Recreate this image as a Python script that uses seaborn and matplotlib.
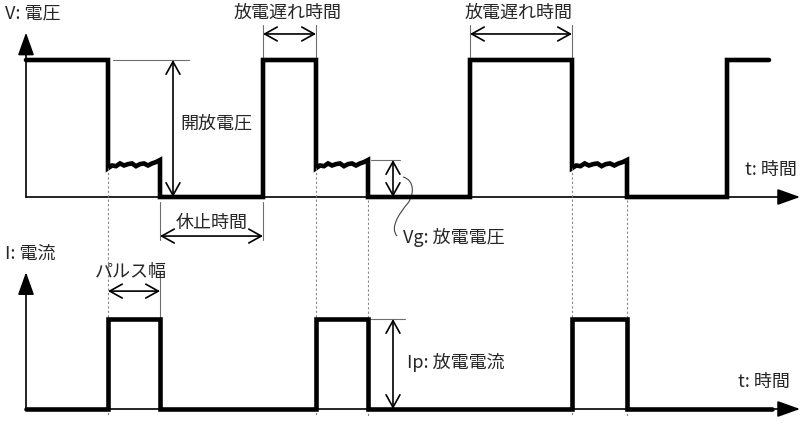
import numpy as np
import pandas as pd
import seaborn as sns
import matplotlib.pyplot as plt
from matplotlib.path import Path
from matplotlib.patches import PathPatch

# --- waveform data (time in arbitrary units, levels in % of peak) ---
pulse_on = [82, 290, 546]      # discharge starts: voltage collapses, current rises
pulse_off = [134, 342, 601]    # discharge ends
rise_times = [237, 444, 701]   # open voltage applied again after the off time
t_end_v = 743
t_end_i = 746
V_OPEN = 100
I_PEAK = 100
# ripple of the arc voltage during discharge
vg_wave = [21, 23, 22.5, 24.5, 23, 24, 24.5, 22.5, 24, 24.5, 23, 24.5, 25.5, 27]
V_GAP = 27

# build step traces from the data
t_v, v = [0], [V_OPEN]
for on, off, rise in zip(pulse_on, pulse_off, rise_times):
    t_v.append(on); v.append(V_OPEN)
    for tt, w in zip(np.linspace(on, off, len(vg_wave)), vg_wave):
        t_v.append(tt); v.append(w)
    t_v += [off, rise, rise]; v += [0, 0, V_OPEN]
t_v.append(t_end_v); v.append(V_OPEN)
df_v = pd.DataFrame({"t": t_v, "v": v})

t_i, cur = [0], [0]
for on, off in zip(pulse_on, pulse_off):
    t_i += [on, on, off, off]; cur += [0, I_PEAK, I_PEAK, 0]
t_i.append(t_end_i); cur.append(0)
df_i = pd.DataFrame({"t": t_i, "i": cur})

sns.set_theme(style="white")
plt.rcParams['font.family'] = ['Noto Sans CJK JP', 'DejaVu Sans']

W, H = 810, 426
fig = plt.figure(figsize=(8.1, 4.26), dpi=100)

# top panel: pixel rows 0..250, V=0 at row 197, 1.37 px per unit
ax_v = fig.add_axes([0, 1 - 250 / H, 1, 250 / H])
ax_v.set_xlim(-26, W - 26)
ax_v.set_ylim((197 - 250) / 1.37, 197 / 1.37)
# bottom panel: pixel rows 250..426, I=0 at row 409, 0.9 px per unit
ax_i = fig.add_axes([0, 0, 1, 176 / H])
ax_i.set_xlim(-26, W - 26)
ax_i.set_ylim((409 - 426) / 0.9, (409 - 250) / 0.9)
for ax in (ax_v, ax_i):
    ax.set_axis_off()

gray = "#6e6e6e"
axis_kw = dict(arrowstyle="-|>,head_length=0.7,head_width=0.25", color="black",
               lw=1.2, mutation_scale=20, shrinkA=0, shrinkB=0)
dim_kw = dict(arrowstyle="<->,head_length=0.45,head_width=0.25", color="black",
              lw=1.2, mutation_scale=20, shrinkA=0, shrinkB=0)

# axes with arrows
ax_v.annotate("", xy=(0, 120), xytext=(0, 0), arrowprops=axis_kw)
ax_v.annotate("", xy=(774, 0), xytext=(0, 0), arrowprops=axis_kw)
ax_i.annotate("", xy=(0, 152), xytext=(0, 0), arrowprops=axis_kw)
ax_i.annotate("", xy=(774, 0), xytext=(0, 0), arrowprops=axis_kw)

# dotted guides linking voltage and current
for k, on in enumerate(pulse_on):
    ax_i.plot([on, on], [268, -8], ls=(0, (2, 2)), color="#888888", lw=0.8,
              clip_on=False, zorder=1)
for k, off in enumerate(pulse_off):
    if k == 0:
        continue
    ax_i.plot([off, off], [232, -8], ls=(0, (2, 2)), color="#888888", lw=0.8,
              clip_on=False, zorder=1)

# waveforms
sns.lineplot(data=df_v, x="t", y="v", ax=ax_v, color="black", lw=3.3,
             sort=False, estimator=None, solid_joinstyle="miter", zorder=3)
sns.lineplot(data=df_i, x="t", y="i", ax=ax_i, color="black", lw=3.3,
             sort=False, estimator=None, solid_joinstyle="miter", zorder=3)
ax_v.set_axis_off()
ax_i.set_axis_off()

fs = 13
# labels
ax_v.text(-21, 134.3, "V: 電圧", ha="left", va="center", fontsize=fs)
ax_v.text(719, 19.7, "t: 時間", ha="left", va="center", fontsize=fs)
ax_i.text(-21, 173, "I: 電流", ha="left", va="center", fontsize=fs)
ax_i.text(712, 30, "t: 時間", ha="left", va="center", fontsize=fs)

# discharge delay time
for a, b in [(rise_times[0], pulse_on[1]), (rise_times[1], pulse_on[2])]:
    for x in (a, b):
        ax_v.plot([x, x], [V_OPEN, 125.5], color=gray, lw=0.8, clip_on=False)
    ax_v.annotate("", xy=(a, 119), xytext=(b, 119), arrowprops=dim_kw)
    ax_v.text((a + b) / 2 - 2, 134.3, "放電遅れ時間", ha="center", va="center",
              fontsize=fs)

# open voltage
ax_v.plot([87, 163], [V_OPEN, V_OPEN], color=gray, lw=0.8)
ax_v.annotate("", xy=(147, V_OPEN), xytext=(147, 0), arrowprops=dim_kw)
ax_v.text(154, 54, "開放電圧", ha="left", va="center", fontsize=fs)

# off time
for x in (pulse_off[0], rise_times[0]):
    ax_v.plot([x, x], [-3.6, -31.4], color=gray, lw=0.8, clip_on=False)
ax_v.annotate("", xy=(pulse_off[0], -28.5), xytext=(rise_times[0], -28.5),
              arrowprops=dim_kw)
ax_v.text(186, -19, "休止時間", ha="center", va="center", fontsize=fs)

# discharge voltage Vg
ax_v.plot([345, 374], [V_GAP, V_GAP], color=gray, lw=0.8)
ax_v.annotate("", xy=(367, V_GAP), xytext=(367, 0), arrowprops=dim_kw)
leader = Path([(377, 14.6), (389, 12.4), (388, 1.5), (382, -4.4),
               (372, -13.1), (364, -22.6), (371, -28.5)],
              [Path.MOVETO, Path.CURVE4, Path.CURVE4, Path.CURVE4,
               Path.CURVE4, Path.CURVE4, Path.CURVE4])
ax_v.add_patch(PathPatch(leader, fill=False, edgecolor="#444444", lw=0.8,
                         clip_on=False))
ax_v.text(377, -29.2, "Vg: 放電電圧", ha="left", va="center", fontsize=fs)

# pulse width
ax_i.plot([pulse_off[0], pulse_off[0]], [151, I_PEAK], color=gray, lw=0.8)
ax_i.annotate("", xy=(pulse_on[0], 131), xytext=(pulse_off[0], 131),
              arrowprops=dim_kw)
ax_i.text(105, 152, "パルス幅", ha="center", va="center", fontsize=fs)

# discharge current Ip
ax_i.plot([344, 379], [I_PEAK, I_PEAK], color=gray, lw=0.8)
ax_i.annotate("", xy=(367, I_PEAK), xytext=(367, 0), arrowprops=dim_kw)
ax_i.text(381, 52, "Ip: 放電電流", ha="left", va="center", fontsize=fs)

fig.savefig("out.png", dpi=100, facecolor="white")
